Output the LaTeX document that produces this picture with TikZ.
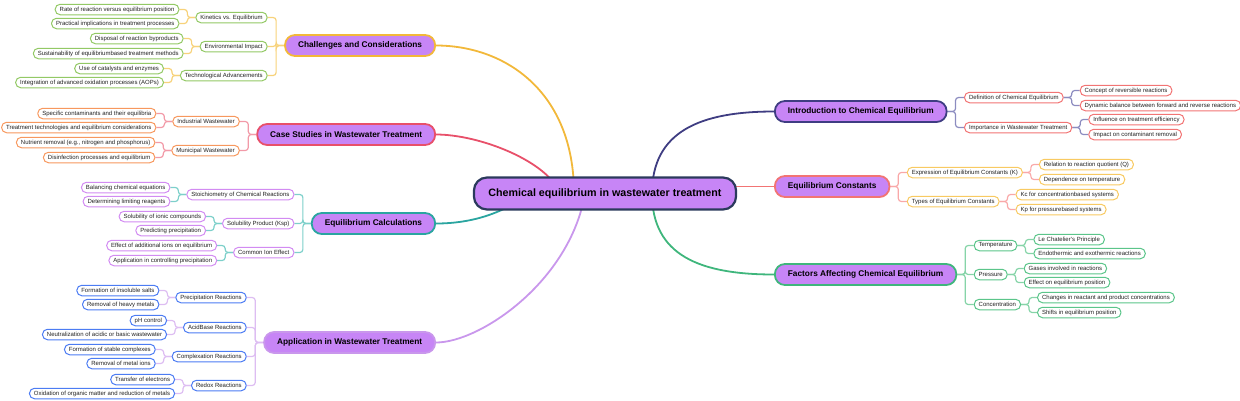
\documentclass[tikz,border=0pt]{standalone}
\usepackage{fontspec}
\setmainfont{Liberation Sans}
\usetikzlibrary{calc,backgrounds}
\definecolor{catfill}{HTML}{C785F6}
\definecolor{rootb}{HTML}{2B3A5C}
\definecolor{textc}{HTML}{222222}
% category borders / main connectors
\definecolor{cgold}{HTML}{F2B83A}
\definecolor{cred}{HTML}{E8506A}
\definecolor{cteal}{HTML}{2AA5A0}
\definecolor{cpurp}{HTML}{C997EC}
\definecolor{cnavy}{HTML}{3F3D82}
\definecolor{csalm}{HTML}{F27474}
\definecolor{cgreen}{HTML}{3FB67C}
% sub connectors
\definecolor{kgold}{HTML}{F7D27A}
\definecolor{kred}{HTML}{F29AA8}
\definecolor{kteal}{HTML}{7DD0CA}
\definecolor{kpurp}{HTML}{DDBDF2}
\definecolor{knavy}{HTML}{8C8CC0}
\definecolor{ksalm}{HTML}{F9A8A8}
\definecolor{kgreen}{HTML}{86D4A8}
% sub / leaf borders
\definecolor{bgreen}{HTML}{93C965}
\definecolor{borange}{HTML}{F7985E}
\definecolor{bpurp}{HTML}{D28BF2}
\definecolor{bblue}{HTML}{4C7CF3}
\definecolor{bsalm}{HTML}{F27474}
\definecolor{bgold}{HTML}{F8CA62}
\definecolor{bgreen2}{HTML}{5BC58A}
\begin{document}
\begin{tikzpicture}[x=1pt,y=-1pt,
  rootn/.style={draw=rootb, line width=2.2pt, fill=catfill, rounded corners=13pt,
    inner xsep=14.5pt, inner ysep=0pt, minimum height=32pt,
    font=\fontsize{10.7}{12}\selectfont\bfseries, text=black},
  catn/.style={draw=#1, line width=1.8pt, fill=catfill, rounded corners=10pt,
    inner xsep=13pt, inner ysep=0pt, minimum height=21pt,
    font=\fontsize{8.3}{10}\selectfont\bfseries, text=black},
  subn/.style={draw=#1, line width=1pt, fill=white, rounded corners=5pt,
    inner xsep=4.5pt, inner ysep=0pt, minimum height=10.5pt,
    font=\fontsize{6}{7}\selectfont, text=textc},
  maincon/.style={draw=#1, line width=1.8pt},
  subcon/.style={draw=#1, line width=1.2pt, rounded corners=3pt},
]
\useasboundingbox (0,-1.5) rectangle (1240,398.5);

% root
\node[rootn] (root) at (605,192) {Chemical equilibrium in wastewater treatment};
\coordinate (r1) at ($(root.center)+(-31,0)$);
\coordinate (r2) at ($(root.center)+(-45,0)$);
\coordinate (r3) at ($(root.center)+(-75,0)$);
\coordinate (r4) at ($(root.center)+(-20,0)$);
\coordinate (r5) at ($(root.center)+(47,0)$);
\coordinate (r6) at ($(root.center)+(115,-7)$);

% categories
\node[catn=cgold, anchor=east] (c1) at (436,44) {Challenges and Considerations};
\node[catn=cred, anchor=east] (c2) at (436,133) {Case Studies in Wastewater Treatment};
\node[catn=cteal, anchor=east] (c3) at (436,222) {Equilibrium Calculations};
\node[catn=cpurp, anchor=east] (c4) at (436,341) {Application in Wastewater Treatment};
\node[catn=cnavy, anchor=west] (c5) at (774,110) {Introduction to Chemical Equilibrium};
\node[catn=csalm, anchor=west] (c6) at (774,185) {Equilibrium Constants};
\node[catn=cgreen, anchor=west] (c7) at (774,273) {Factors Affecting Chemical Equilibrium};

% ---- Challenges
\node[subn=bgreen, anchor=east] (k1) at ($(c1.west)+(-16.5,-28)$) {Kinetics vs. Equilibrium};
\node[subn=bgreen, anchor=east] (k2) at ($(c1.west)+(-16.5,1)$) {Environmental Impact};
\node[subn=bgreen, anchor=east] (k3) at ($(c1.west)+(-16.5,30)$) {Technological Advancements};
\node[subn=bgreen, anchor=east] (k1-a) at ($(k1.west)+(-16,-8)$) {Rate of reaction versus equilibrium position};
\node[subn=bgreen, anchor=east] (k1-b) at ($(k1.west)+(-16,6)$) {Practical implications in treatment processes};
\node[subn=bgreen, anchor=east] (k2-a) at ($(k2.west)+(-16,-8)$) {Disposal of reaction byproducts};
\node[subn=bgreen, anchor=east] (k2-b) at ($(k2.west)+(-16,7)$) {Sustainability of equilibriumbased treatment methods};
\node[subn=bgreen, anchor=east] (k3-a) at ($(k3.west)+(-16,-7)$) {Use of catalysts and enzymes};
\node[subn=bgreen, anchor=east] (k3-b) at ($(k3.west)+(-16,7)$) {Integration of advanced oxidation processes (AOPs)};

% ---- Case studies
\node[subn=borange, anchor=east] (s1) at ($(c2.west)+(-16.5,-13)$) {Industrial Wastewater};
\node[subn=borange, anchor=east] (s2) at ($(c2.west)+(-16.5,16)$) {Municipal Wastewater};
\node[subn=borange, anchor=east] (s1-a) at ($(s1.west)+(-16,-8)$) {Specific contaminants and their equilibria};
\node[subn=borange, anchor=east] (s1-b) at ($(s1.west)+(-16,6)$) {Treatment technologies and equilibrium considerations};
\node[subn=borange, anchor=east] (s2-a) at ($(s2.west)+(-16,-8)$) {Nutrient removal (e.g., nitrogen and phosphorus)};
\node[subn=borange, anchor=east] (s2-b) at ($(s2.west)+(-16,7)$) {Disinfection processes and equilibrium};

% ---- Equilibrium calculations
\node[subn=bpurp, anchor=east] (q1) at ($(c3.west)+(-16.5,-29)$) {Stoichiometry of Chemical Reactions};
\node[subn=bpurp, anchor=east] (q2) at ($(c3.west)+(-16.5,0)$) {Solubility Product (Ksp)};
\node[subn=bpurp, anchor=east] (q3) at ($(c3.west)+(-16.5,29)$) {Common Ion Effect};
\node[subn=bpurp, anchor=east] (q1-a) at ($(q1.west)+(-16,-7)$) {Balancing chemical equations};
\node[subn=bpurp, anchor=east] (q1-b) at ($(q1.west)+(-16,7)$) {Determining limiting reagents};
\node[subn=bpurp, anchor=east] (q2-a) at ($(q2.west)+(-16,-7)$) {Solubility of ionic compounds};
\node[subn=bpurp, anchor=east] (q2-b) at ($(q2.west)+(-16,7)$) {Predicting precipitation};
\node[subn=bpurp, anchor=east] (q3-a) at ($(q3.west)+(-16,-7)$) {Effect of additional ions on equilibrium};
\node[subn=bpurp, anchor=east] (q3-b) at ($(q3.west)+(-16,8)$) {Application in controlling precipitation};

% ---- Application
\node[subn=bblue, anchor=east] (a1) at ($(c4.west)+(-16.5,-45)$) {Precipitation Reactions};
\node[subn=bblue, anchor=east] (a2) at ($(c4.west)+(-16.5,-15)$) {AcidBase Reactions};
\node[subn=bblue, anchor=east] (a3) at ($(c4.west)+(-16.5,14)$) {Complexation Reactions};
\node[subn=bblue, anchor=east] (a4) at ($(c4.west)+(-16.5,43)$) {Redox Reactions};
\node[subn=bblue, anchor=east] (a1-a) at ($(a1.west)+(-16,-7)$) {Formation of insoluble salts};
\node[subn=bblue, anchor=east] (a1-b) at ($(a1.west)+(-16,7)$) {Removal of heavy metals};
\node[subn=bblue, anchor=east] (a2-a) at ($(a2.west)+(-16,-7)$) {pH control};
\node[subn=bblue, anchor=east] (a2-b) at ($(a2.west)+(-16,7)$) {Neutralization of acidic or basic wastewater};
\node[subn=bblue, anchor=east] (a3-a) at ($(a3.west)+(-16,-7)$) {Formation of stable complexes};
\node[subn=bblue, anchor=east] (a3-b) at ($(a3.west)+(-16,7)$) {Removal of metal ions};
\node[subn=bblue, anchor=east] (a4-a) at ($(a4.west)+(-16,-6)$) {Transfer of electrons};
\node[subn=bblue, anchor=east] (a4-b) at ($(a4.west)+(-16,8)$) {Oxidation of organic matter and reduction of metals};

% ---- Introduction
\node[subn=bsalm, anchor=west] (i1) at ($(c5.east)+(16.5,-14)$) {Definition of Chemical Equilibrium};
\node[subn=bsalm, anchor=west] (i2) at ($(c5.east)+(16.5,16)$) {Importance in Wastewater Treatment};
\node[subn=bsalm, anchor=west] (i1-a) at ($(i1.east)+(16,-7)$) {Concept of reversible reactions};
\node[subn=bsalm, anchor=west] (i1-b) at ($(i1.east)+(16,8)$) {Dynamic balance between forward and reverse reactions};
\node[subn=bsalm, anchor=west] (i2-a) at ($(i2.east)+(16,-8)$) {Influence on treatment efficiency};
\node[subn=bsalm, anchor=west] (i2-b) at ($(i2.east)+(16,7)$) {Impact on contaminant removal};

% ---- Equilibrium constants
\node[subn=bgold, anchor=west] (e1) at ($(c6.east)+(16.5,-14)$) {Expression of Equilibrium Constants (K)};
\node[subn=bgold, anchor=west] (e2) at ($(c6.east)+(16.5,15)$) {Types of Equilibrium Constants};
\node[subn=bgold, anchor=west] (e1-a) at ($(e1.east)+(16,-8)$) {Relation to reaction quotient (Q)};
\node[subn=bgold, anchor=west] (e1-b) at ($(e1.east)+(16,7)$) {Dependence on temperature};
\node[subn=bgold, anchor=west] (e2-a) at ($(e2.east)+(16,-7)$) {Kc for concentrationbased systems};
\node[subn=bgold, anchor=west] (e2-b) at ($(e2.east)+(16,8)$) {Kp for pressurebased systems};

% ---- Factors
\node[subn=bgreen2, anchor=west] (f1) at ($(c7.east)+(16.5,-29)$) {Temperature};
\node[subn=bgreen2, anchor=west] (f2) at ($(c7.east)+(16.5,0)$) {Pressure};
\node[subn=bgreen2, anchor=west] (f3) at ($(c7.east)+(16.5,30)$) {Concentration};
\node[subn=bgreen2, anchor=west] (f1-a) at ($(f1.east)+(16,-6)$) {Le Chatelier's Principle};
\node[subn=bgreen2, anchor=west] (f1-b) at ($(f1.east)+(16,8)$) {Endothermic and exothermic reactions};
\node[subn=bgreen2, anchor=west] (f2-a) at ($(f2.east)+(16,-6)$) {Gases involved in reactions};
\node[subn=bgreen2, anchor=west] (f2-b) at ($(f2.east)+(16,8)$) {Effect on equilibrium position};
\node[subn=bgreen2, anchor=west] (f3-a) at ($(f3.east)+(16,-7)$) {Changes in reactant and product concentrations};
\node[subn=bgreen2, anchor=west] (f3-b) at ($(f3.east)+(16,8)$) {Shifts in equilibrium position};

\begin{pgfonlayer}{background}
% main curves
\draw[maincon=cgold] (c1.east) .. controls +(69,0) and +(0,-102) .. (r1);
\draw[maincon=cred] (c2.east) .. controls +(44,0) and +(-12,-32) .. (r2);
\draw[maincon=cteal] (c3.east) .. controls +(39,0) and +(-25,18) .. (r3);
\draw[maincon=cpurp] (c4.east) .. controls +(44,0) and +(-15,88) .. (r4);
\draw[maincon=cnavy] (c5.west) .. controls +(-74,0) and +(0,-62) .. (r5);
\draw[maincon=csalm] (r6) -- (c6.west);
\draw[maincon=cgreen] (c7.west) .. controls +(-74,0) and +(0,62) .. (r5);
% left sub connectors
\foreach \s in {k1,k2,k3} {
  \draw[subcon=kgold] (c1.west) -- ++(-8,0) |- (\s.east);
  \draw[subcon=kgold] (\s.west) -- ++(-8,0) |- (\s-a.east);
  \draw[subcon=kgold] (\s.west) -- ++(-8,0) |- (\s-b.east);
}
\foreach \s in {s1,s2} {
  \draw[subcon=kred] (c2.west) -- ++(-8,0) |- (\s.east);
  \draw[subcon=kred] (\s.west) -- ++(-8,0) |- (\s-a.east);
  \draw[subcon=kred] (\s.west) -- ++(-8,0) |- (\s-b.east);
}
\foreach \s in {q1,q2,q3} {
  \draw[subcon=kteal] (c3.west) -- ++(-8,0) |- (\s.east);
  \draw[subcon=kteal] (\s.west) -- ++(-8,0) |- (\s-a.east);
  \draw[subcon=kteal] (\s.west) -- ++(-8,0) |- (\s-b.east);
}
\foreach \s in {a1,a2,a3,a4} {
  \draw[subcon=kpurp] (c4.west) -- ++(-8,0) |- (\s.east);
  \draw[subcon=kpurp] (\s.west) -- ++(-8,0) |- (\s-a.east);
  \draw[subcon=kpurp] (\s.west) -- ++(-8,0) |- (\s-b.east);
}
% right sub connectors
\foreach \s in {i1,i2} {
  \draw[subcon=knavy] (c5.east) -- ++(8,0) |- (\s.west);
  \draw[subcon=knavy] (\s.east) -- ++(8,0) |- (\s-a.west);
  \draw[subcon=knavy] (\s.east) -- ++(8,0) |- (\s-b.west);
}
\foreach \s in {e1,e2} {
  \draw[subcon=ksalm] (c6.east) -- ++(8,0) |- (\s.west);
  \draw[subcon=ksalm] (\s.east) -- ++(8,0) |- (\s-a.west);
  \draw[subcon=ksalm] (\s.east) -- ++(8,0) |- (\s-b.west);
}
\foreach \s in {f1,f2,f3} {
  \draw[subcon=kgreen] (c7.east) -- ++(8,0) |- (\s.west);
  \draw[subcon=kgreen] (\s.east) -- ++(8,0) |- (\s-a.west);
  \draw[subcon=kgreen] (\s.east) -- ++(8,0) |- (\s-b.west);
}
\end{pgfonlayer}
\end{tikzpicture}
\end{document}
